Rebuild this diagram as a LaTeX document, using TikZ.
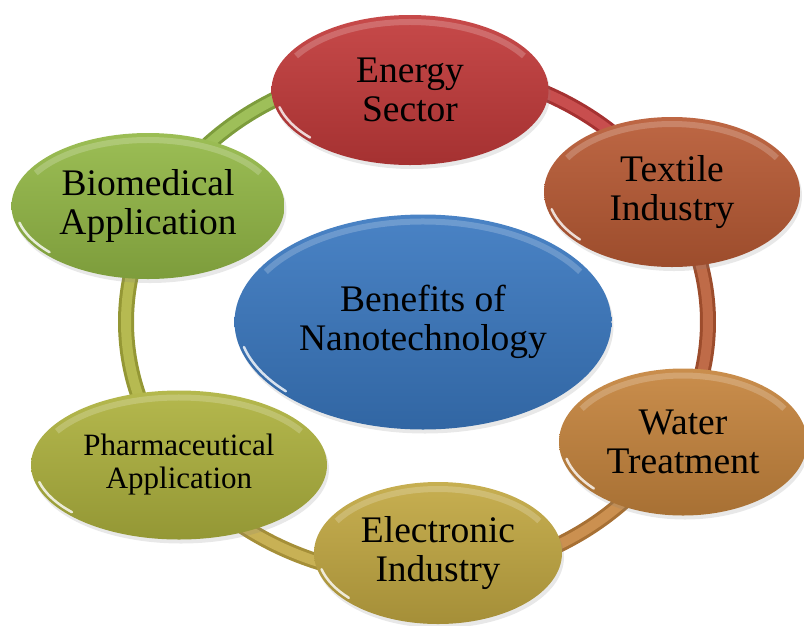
\documentclass[tikz,border=0pt]{standalone}
\usepackage{fontspec}
\setmainfont{Liberation Serif}
\usetikzlibrary{shapes}
\usetikzlibrary{shadows}
\usetikzlibrary{calc}

\definecolor{c_hub}{HTML}{3A78C0}
\definecolor{c_energy}{HTML}{C23A3A}
\definecolor{c_textile}{HTML}{B85A34}
\definecolor{c_water}{HTML}{C5843D}
\definecolor{c_electronic}{HTML}{C2A842}
\definecolor{c_pharma}{HTML}{AEB23E}
\definecolor{c_bio}{HTML}{93B846}

\tikzset{
	cyclenode/.style = {
		align=center,
		inner sep=0pt,
		text centered,
		ellipse,
		text=black,
		font=\fontsize{37.5}{39}\selectfont,
		drop shadow={opacity=0.18, shadow xshift=2pt, shadow yshift=-4pt},
		path picture={
			\draw [white, opacity=0.2, line width=6pt]
				let \p1=(path picture bounding box.south west),
					\p2=(path picture bounding box.north east),
					\n1={(\x2-\x1)/2-7}, \n2={(\y2-\y1)/2-7}
				in ([shift={(30:\n1 and \n2)}]path picture bounding box.center)
				arc [start angle=30, end angle=150, x radius=\n1, y radius=\n2];
			\draw [white, opacity=0.8, line width=2.5pt, line cap=round]
				let \p1=(path picture bounding box.south west),
					\p2=(path picture bounding box.north east),
					\n1={(\x2-\x1)/2-4}, \n2={(\y2-\y1)/2-4}
				in ([shift={(194:\n1 and \n2)}]path picture bounding box.center)
				arc [start angle=194, end angle=222, x radius=\n1, y radius=\n2];
		}
	},
	node_fill/.style = {
		cyclenode,
		top color=#1!92!white,
		bottom color=#1!85!black
	},
	node_hub/.style = {
		node_fill=c_hub,
		minimum width=377pt,
		minimum height=215pt
	},
	node_energy/.style = {
		node_fill=c_energy,
		minimum width=277pt,
		minimum height=150pt
	},
	node_textile/.style = {
		node_fill=c_textile,
		minimum width=256pt,
		minimum height=150pt
	},
	node_water/.style = {
		node_fill=c_water,
		minimum width=248pt,
		minimum height=147pt
	},
	node_electronic/.style = {
		node_fill=c_electronic,
		minimum width=248pt,
		minimum height=142pt
	},
	node_pharma/.style = {
		node_fill=c_pharma,
		font=\fontsize{31}{33}\selectfont,
		minimum width=296pt,
		minimum height=149pt
	},
	node_bio/.style = {
		node_fill=c_bio,
		minimum width=273pt,
		minimum height=146pt
	},
	ring_seg/.style = {
		line width=3pt,
		draw=#1!85!black,
		double=#1!90!white,
		double distance=10pt
	}
}

\begin{document}
\begin{tikzpicture}[x=1pt, y=1pt]
\useasboundingbox (0,0) rectangle (804,-625);
\coordinate (ring_center) at (417,-322);

\draw [ring_seg=c_bio] ([shift={(154:291 and 255)}]ring_center)
	arc [start angle=154, end angle=91, x radius=291, y radius=255];
\draw [ring_seg=c_energy] ([shift={(91:291 and 255)}]ring_center)
	arc [start angle=91, end angle=30, x radius=291, y radius=255];
\draw [ring_seg=c_textile] ([shift={(30:291 and 255)}]ring_center)
	arc [start angle=30, end angle=-27, x radius=291, y radius=255];
\draw [ring_seg=c_water] ([shift={(-27:291 and 255)}]ring_center)
	arc [start angle=-27, end angle=-86, x radius=291, y radius=255];
\draw [ring_seg=c_electronic] ([shift={(-86:291 and 255)}]ring_center)
	arc [start angle=-86, end angle=-145, x radius=291, y radius=255];
\draw [ring_seg=c_pharma] ([shift={(-145:291 and 255)}]ring_center)
	arc [start angle=-145, end angle=-206, x radius=291, y radius=255];

\node [node_hub] (hub) at (423,-322) {Benefits of\\Nanotechnology};
\node [node_energy] (energy) at (410,-90) {Energy\\Sector};
\node [node_textile] (textile) at (672,-192) {Textile\\Industry};
\node [node_water] (water) at (683,-442) {Water\\Treatment};
\node [node_electronic] (electronic) at (438,-553) {Electronic\\Industry};
\node [node_pharma] (pharma) at (179,-465) {Pharmaceutical\\Application};
\node [node_bio] (bio) at (148,-206) {Biomedical\\Application};
\end{tikzpicture}
\end{document}
